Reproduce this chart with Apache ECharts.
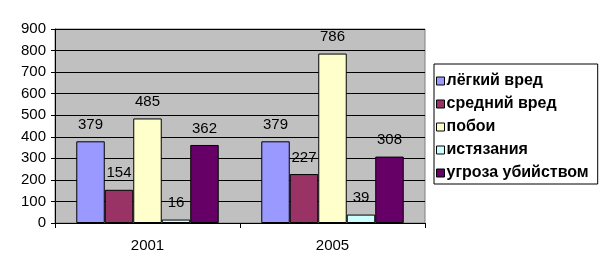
<!DOCTYPE html>
<html><head><meta charset="utf-8">
<script src="https://cdn.jsdelivr.net/npm/echarts@6/dist/echarts.min.js"></script>
<style>html,body{margin:0;padding:0;background:#fff}#c{width:610px;height:276px}</style>
</head><body><div id="c"></div>
<script>
const categories = ['2001', '2005'];
const seriesNames = ['лёгкий вред', 'средний вред', 'побои', 'истязания', 'угроза убийством'];
const lightHarm = [379, 379];
const mediumHarm = [154, 227];
const beatings = [485, 786];
const torture = [16, 39];
const murderThreat = [362, 308];
const yTicks = [0, 100, 200, 300, 400, 500, 600, 700, 800, 900];
const colors = ['#9999FF', '#993366', '#FFFFCC', '#CCFFFF', '#660066'];
const values = [lightHarm, mediumHarm, beatings, torture, murderThreat];

const font = 'Liberation Sans, Arial, sans-serif';
const chart = echarts.init(document.getElementById('c'), null, {renderer: 'canvas'});
chart.setOption({
  animation: false,
  textStyle: {fontFamily: font},
  grid: {left: 55, right: 185, top: 29, bottom: 53, show: true, backgroundColor: '#C0C0C0', borderColor: '#808080', borderWidth: 1},
  xAxis: {
    type: 'category', data: categories,
    axisLine: {lineStyle: {color: '#000'}},
    axisTick: {show: true, length: 5, lineStyle: {color: '#000'}},
    axisLabel: {color: '#000', fontSize: 15, margin: 15, fontFamily: font}
  },
  yAxis: {
    type: 'value', min: yTicks[0], max: yTicks[yTicks.length - 1], interval: 100,
    axisLine: {show: true, lineStyle: {color: '#000'}},
    axisTick: {show: true, length: 4, lineStyle: {color: '#000'}},
    splitLine: {lineStyle: {color: '#000'}},
    axisLabel: {color: '#000', fontSize: 15, margin: 9, fontFamily: font}
  },
  legend: {
    orient: 'vertical', left: 434, top: 64,
    backgroundColor: '#fff', borderColor: '#000', borderWidth: 1,
    padding: [9, 9, 3, 2],
    itemWidth: 8, itemHeight: 8, itemGap: 7,
    icon: 'rect',
    itemStyle: {borderColor: '#000', borderWidth: 1},
    textStyle: {color: '#000', fontSize: 16, lineHeight: 16, fontWeight: 'bold', fontFamily: font, padding: [0, 0, 0, -3]},
    data: seriesNames
  },
  series: seriesNames.map((n, i) => ({
    name: n, type: 'bar', data: values[i],
    barGap: '0%', barCategoryGap: '23%',
    itemStyle: {color: colors[i], borderColor: '#000', borderWidth: 1},
    label: {show: true, position: 'top', distance: 9, color: '#000', fontSize: 15, fontFamily: font}
  }))
});
</script></body></html>
